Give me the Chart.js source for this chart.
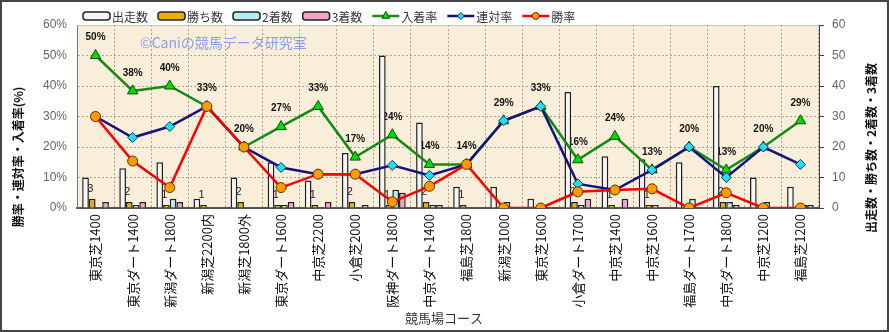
<!DOCTYPE html>
<html>
<head>
<meta charset="utf-8">
<script src="https://cdn.jsdelivr.net/npm/chart.js@4/dist/chart.umd.min.js"></script>
<style>
  body { margin: 0; background: #fff; }
  #wrap { width: 889px; height: 332px; }
</style>
</head>
<body>
<div id="wrap"><canvas id="courseChart" width="889" height="332"></canvas></div>
<script>
// course list and results
const courses = ["東京芝1400", "東京ダート1400", "新潟ダート1800", "新潟芝2200内", "新潟芝1800外", "東京ダート1600", "中京芝2200", "小倉芝2000", "阪神ダート1800", "中京ダート1400", "福島芝1800", "新潟芝1000", "東京芝1600", "小倉ダート1700", "中京芝1400", "中京芝1600", "福島ダート1700", "中京ダート1800", "中京芝1200", "福島芝1200"];
const starts = [10, 13, 15, 3, 10, 15, 9, 18, 50, 28, 7, 7, 3, 38, 17, 16, 15, 40, 10, 7];
const wins = [3, 2, 1, 1, 2, 1, 1, 2, 1, 2, 1, 0, 0, 2, 1, 1, 0, 2, 0, 0];
const seconds = [0, 1, 3, 0, 0, 1, 0, 0, 6, 1, 0, 2, 1, 1, 0, 1, 3, 2, 2, 1];
const thirds = [2, 2, 2, 0, 0, 2, 2, 1, 5, 1, 0, 0, 0, 3, 3, 0, 0, 1, 0, 1];
const showRate = [50, 38.4, 40, 33.3, 20, 26.7, 33.3, 16.7, 24, 14.3, 14.3, 28.6, 33.3, 15.8, 23.5, 12.5, 20, 12.5, 20, 28.6];
const placeRate = [30, 23.1, 26.7, 33.3, 20, 13.3, 11.1, 11.1, 14, 10.7, 14.3, 28.6, 33.3, 7.9, 5.9, 12.5, 20, 10, 20, 14.3];
const winRate = [30, 15.4, 6.7, 33.3, 20, 6.7, 11.1, 11.1, 2, 7.1, 14.3, 0, 0, 5.3, 5.9, 6.3, 0, 5, 0, 0];
const rateTicks = [0, 10, 20, 30, 40, 50, 60];

const JP = '"Noto Sans CJK JP", sans-serif';
const LAT = '"Liberation Sans", Arial, sans-serif';
Chart.defaults.font.family = JP;

function barSet(label, data, fill) {
    return {
        type: 'bar', label: label, data: data, yAxisID: 'y2', order: 10,
        backgroundColor: fill, borderColor: '#222', borderWidth: 1.5,
        categoryPercentage: 0.72, barPercentage: 1
    };
}
function lineSet(label, data, color, style, radius, pointFill, pointEdge, order) {
    return {
        type: 'line', label: label, data: data, yAxisID: 'y', order: order,
        borderColor: color, borderWidth: 2.5, backgroundColor: pointFill,
        pointStyle: style, pointRadius: radius, pointBackgroundColor: pointFill,
        pointBorderColor: pointEdge, pointBorderWidth: 1, tension: 0
    };
}

const datasets = [
    barSet('出走数', starts, '#f6f6f6'),
    barSet('勝ち数', wins, '#e8b000'),
    barSet('2着数', seconds, '#b4eef2'),
    barSet('3着数', thirds, '#f4a2c8'),
    lineSet('入着率', showRate, '#138a13', 'triangle', 6, '#00dd00', '#0a4a0a', 3),
    lineSet('連対率', placeRate, '#14147c', 'rectRot', 5, '#20e0f0', '#0a3a5a', 2),
    lineSet('勝率', winRate, '#ff0000', 'circle', 5, '#ff9a00', '#6a3000', 1)
];

// background, labels, titles and legend drawn around the library's marks
const decor = {
    id: 'decor',
    beforeDraw(chart) {
        const {ctx, chartArea: a} = chart;
        ctx.save();
        ctx.fillStyle = '#fff';
        ctx.fillRect(0, 0, chart.width, chart.height);
        ctx.fillStyle = '#f8eed9';
        ctx.fillRect(a.left, a.top, a.right - a.left, a.bottom - a.top);
        ctx.restore();
    },
    beforeDatasetsDraw(chart) {
        const {ctx} = chart;
        ctx.save();
        // watermark
        ctx.font = '14px ' + JP;
        ctx.fillStyle = '#8d9bf0';
        ctx.textBaseline = 'middle';
        ctx.fillText('©Caniの競馬データ研究室', 140, 43);
        // 入着率 labels
        const showMeta = chart.getDatasetMeta(4);
        ctx.font = 'bold 10px ' + LAT;
        ctx.fillStyle = '#111';
        ctx.textAlign = 'center';
        showMeta.data.forEach((pt, i) => {
            ctx.fillText(Math.round(showRate[i]) + '%', pt.x, pt.y - 18);
        });
        // win counts above the win bars
        const winMeta = chart.getDatasetMeta(1);
        ctx.font = '11px ' + LAT;
        ctx.fillStyle = '#222';
        winMeta.data.forEach((bar, i) => {
            if (wins[i] > 0) ctx.fillText(String(wins[i]), bar.x - 2, bar.y - 10);
        });
        ctx.restore();
    },
    afterDraw(chart) {
        const {ctx, chartArea: a} = chart;
        ctx.save();
        // top edge of plot
        ctx.strokeStyle = '#c4c4c4';
        ctx.lineWidth = 1;
        ctx.beginPath();
        ctx.moveTo(a.left, a.top + 0.5);
        ctx.lineTo(a.right, a.top + 0.5);
        ctx.stroke();
        // outer frame
        ctx.strokeStyle = '#454545';
        ctx.lineWidth = 2;
        ctx.strokeRect(1, 1, chart.width - 2, chart.height - 2);

        // axis titles
        ctx.fillStyle = '#111';
        ctx.textAlign = 'center';
        ctx.textBaseline = 'middle';
        ctx.font = 'bold 12px ' + JP;
        ctx.save();
        ctx.translate(18, 157);
        ctx.rotate(-Math.PI / 2);
        ctx.fillText('勝率・連対率・入着率(%)', 0, 0);
        ctx.restore();
        ctx.save();
        ctx.translate(871, 148);
        ctx.rotate(-Math.PI / 2);
        ctx.fillText('出走数・勝ち数・2着数・3着数', 0, 0);
        ctx.restore();
        ctx.font = '13px ' + JP;
        ctx.fillStyle = '#333';
        ctx.fillText('競馬場コース', 444, 318);

        // legend
        let x = 83;
        const y = 16;
        ctx.textAlign = 'left';
        chart.data.datasets.forEach(ds => {
            if (ds.type === 'bar') {
                ctx.fillStyle = ds.backgroundColor;
                ctx.strokeStyle = '#222';
                ctx.lineWidth = 1.5;
                ctx.beginPath();
                ctx.roundRect(x, y - 4, 27, 8, 3);
                ctx.fill();
                ctx.stroke();
            } else {
                ctx.strokeStyle = ds.borderColor;
                ctx.lineWidth = 2.5;
                ctx.beginPath();
                ctx.moveTo(x, y);
                ctx.lineTo(x + 27, y);
                ctx.stroke();
                ctx.fillStyle = ds.pointBackgroundColor;
                ctx.strokeStyle = ds.pointBorderColor;
                ctx.lineWidth = 1;
                Chart.helpers.drawPoint(ctx, {pointStyle: ds.pointStyle, radius: ds.pointRadius - 1.5, rotation: 0, borderWidth: 1}, x + 13.5, y);
            }
            ctx.font = '12px ' + JP;
            ctx.fillStyle = '#333';
            ctx.fillText(ds.label, x + 29, y + 1);
            x += 29 + ctx.measureText(ds.label).width + 10;
        });
        ctx.restore();
    }
};

const gridColor = '#aea58e';

new Chart(document.getElementById('courseChart'), {
    type: 'bar',
    data: { labels: courses, datasets: datasets },
    plugins: [decor],
    options: {
        responsive: false,
        animation: false,
        layout: { padding: { top: 25, left: 0, right: 0, bottom: 0 } },
        plugins: { legend: { display: false }, tooltip: { enabled: false } },
        scales: {
            x: {
                offset: true,
                afterFit: s => { s.height = 124; },
                grid: { color: gridColor, offset: true, drawTicks: false },
                border: { color: '#555', width: 2, dash: [2, 2] },
                ticks: {
                    autoSkip: false, minRotation: 90, maxRotation: 90, padding: 6,
                    color: '#111', font: { size: 13, family: JP }
                }
            },
            y: {
                position: 'left',
                min: 0, max: 60,
                afterFit: s => { s.width = 77; },
                afterBuildTicks: s => { s.ticks = rateTicks.map(v => ({value: v})); },
                grid: { color: gridColor, drawTicks: false },
                border: { color: '#777', width: 1, dash: [2, 2] },
                ticks: {
                    padding: 10, color: '#666', font: { size: 12, family: LAT },
                    callback: v => v + '%'
                }
            },
            y2: {
                position: 'right',
                min: 0, max: 60,
                afterFit: s => { s.width = 70; },
                afterBuildTicks: s => { s.ticks = rateTicks.map(v => ({value: v})); },
                grid: { drawOnChartArea: false, tickLength: 5, tickColor: '#444' },
                border: { color: '#444', width: 1 },
                ticks: { padding: 8, color: '#666', font: { size: 12, family: LAT } }
            }
        }
    }
});
</script>
</body>
</html>
